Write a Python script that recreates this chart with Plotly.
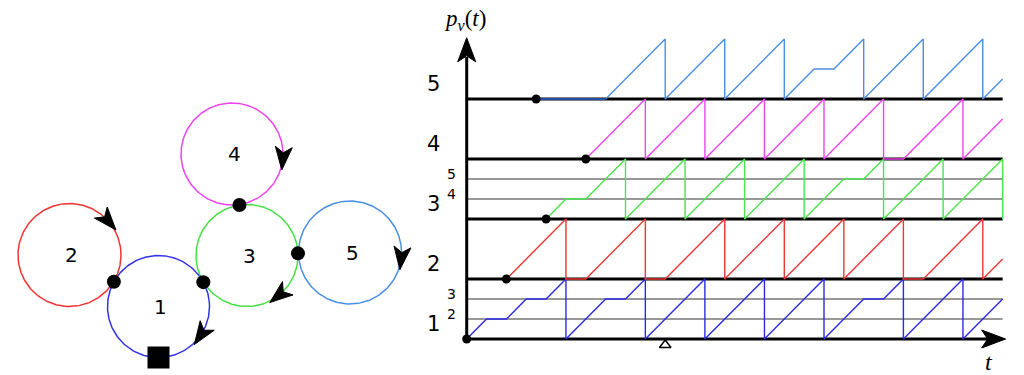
import numpy as np
import plotly.graph_objects as go

# ---------------- data: left diagram (graph of 5 cycles) ----------------
node_names = ["1", "2", "3", "4", "5"]
node_cx = [158.5, 69.5, 247.0, 232.0, 350.0]
node_cy = [306.5, 255.0, 255.5, 154.0, 252.5]
node_r = [51.0, 51.5, 51.0, 51.0, 51.5]
node_colors = ["#3333e6", "#f03333", "#44e044", "#ee44ee", "#4a8fe3"]
arrow_angle_deg = [34.0, -41.0, 51.5, 5.0, 6.5]      # arrowhead place on each cycle
junction_node = [0, 0, 2, 2]                          # junctions (on which cycle)
junction_angle_deg = [-151.0, -28.5, -98.5, -2.4]
square_node = 0
square_angle_deg = 90.0

# ---------------- data: right chart p_v(t) ----------------
lvl1_t = [0, 1, 2, 3, 4, 5, 5, 7, 8, 9, 9, 12, 12, 15, 15, 18, 18, 20, 21, 22, 22, 25, 25, 27]
lvl1_v = [0, 1/3, 1/3, 2/3, 2/3, 1, 0, 2/3, 2/3, 1, 0, 1, 0, 1, 0, 1, 0, 2/3, 2/3, 1, 0, 1, 0, 2/3]
lvl2_t = [2, 5, 5, 6, 9, 9, 10, 13, 13, 16, 16, 19, 19, 22, 22, 23, 26, 26, 27]
lvl2_v = [1, 2, 1, 1, 2, 1, 1, 2, 1, 2, 1, 2, 1, 2, 1, 1, 2, 1, 4/3]
lvl3_t = [4, 5, 6, 8, 8, 11, 11, 14, 14, 17, 17, 19, 20, 21, 21, 24, 24, 27, 27]
lvl3_v = [2, 7/3, 7/3, 3, 2, 3, 2, 3, 2, 3, 2, 8/3, 8/3, 3, 2, 3, 2, 3, 2]
lvl4_t = [6, 9, 9, 12, 12, 15, 15, 18, 18, 21, 21, 22, 25, 25, 27]
lvl4_v = [3, 4, 3, 4, 3, 4, 3, 4, 3, 4, 3, 3, 4, 3, 11/3]
lvl5_wait_t = [3.5, 7]
lvl5_wait_v = [4, 4]
lvl5_t = [7, 10, 10, 13, 13, 16, 16, 17.5, 18.5, 20, 20, 23, 23, 26, 26, 27]
lvl5_v = [4, 5, 4, 5, 4, 5, 4, 4.5, 4.5, 5, 4, 5, 4, 5, 4, 13/3]
start_t = [0, 2, 4, 6, 3.5]
start_v = [0, 1, 2, 3, 4]
thick_levels = [1, 2, 3, 4]
thin_levels = [1/3, 2/3, 7/3, 8/3]
t_end = 27
band_labels = ["1", "2", "3", "4", "5"]
sub_labels = ["2", "3", "4", "5"]
sub_label_v = [0.41, 0.75, 2.41, 2.75]
marker_t = [10]

# ---------------- geometry of the chart area (pixels) ----------------
W, H = 1024, 375
X0, Y0 = 466.7, 339.0      # pixel of (t=0, v=0)
UT, UV = 19.85, 60.0       # pixels per unit
t_range = [-X0 / UT, (W - X0) / UT]
v_range = [(Y0 - H) / UV, Y0 / UV]


def to_px(t, v):
    return X0 + UT * t, Y0 - UV * v


def stealth(px, py, dx, dy, L, Wd):
    n = np.hypot(dx, dy)
    dx, dy = dx / n, dy / n
    nx, ny = -dy, dx
    xs = [px + dx * L / 2, px - dx * L / 2 + nx * Wd / 2, px - dx * L / 4,
          px - dx * L / 2 - nx * Wd / 2, px + dx * L / 2]
    ys = [py + dy * L / 2, py - dy * L / 2 + ny * Wd / 2, py - dy * L / 4,
          py - dy * L / 2 - ny * Wd / 2, py + dy * L / 2]
    return xs, ys


fig = go.Figure()

# ---- left diagram ----
th = np.linspace(0, 2 * np.pi, 241)
for i in range(5):
    fig.add_trace(go.Scatter(x=node_cx[i] + node_r[i] * np.cos(th),
                             y=node_cy[i] + node_r[i] * np.sin(th),
                             mode="lines", line=dict(color=node_colors[i], width=1.5),
                             xaxis="x", yaxis="y", hoverinfo="skip"))
for i in range(5):
    a = np.radians(arrow_angle_deg[i])
    px = node_cx[i] + node_r[i] * np.cos(a)
    py = node_cy[i] + node_r[i] * np.sin(a)
    xs, ys = stealth(px, py, -np.sin(a), np.cos(a), 23, 17)
    fig.add_trace(go.Scatter(x=xs, y=ys, mode="lines", fill="toself", fillcolor="black",
                             line=dict(color="black", width=1), xaxis="x", yaxis="y",
                             hoverinfo="skip"))
jx = [node_cx[k] + node_r[k] * np.cos(np.radians(a)) for k, a in zip(junction_node, junction_angle_deg)]
jy = [node_cy[k] + node_r[k] * np.sin(np.radians(a)) for k, a in zip(junction_node, junction_angle_deg)]
fig.add_trace(go.Scatter(x=jx, y=jy, mode="markers", marker=dict(color="black", size=14),
                         xaxis="x", yaxis="y", hoverinfo="skip"))
sa = np.radians(square_angle_deg)
fig.add_trace(go.Scatter(x=[node_cx[square_node] + node_r[square_node] * np.cos(sa)],
                         y=[node_cy[square_node] + node_r[square_node] * np.sin(sa)],
                         mode="markers", marker=dict(color="black", size=22, symbol="square"),
                         xaxis="x", yaxis="y", hoverinfo="skip"))
for i in range(5):
    fig.add_annotation(x=node_cx[i] + 2, y=node_cy[i], text=node_names[i], showarrow=False,
                       xref="x", yref="y", font=dict(family="DejaVu Sans", size=20, color="black"))

# ---- right chart ----
for lv in thin_levels:
    fig.add_trace(go.Scatter(x=[0, t_end], y=[lv, lv], mode="lines",
                             line=dict(color="#333333", width=1), xaxis="x2", yaxis="y2",
                             hoverinfo="skip"))
for lv in thick_levels:
    fig.add_trace(go.Scatter(x=[0, t_end], y=[lv, lv], mode="lines",
                             line=dict(color="black", width=3), xaxis="x2", yaxis="y2",
                             hoverinfo="skip"))
# axes
fig.add_trace(go.Scatter(x=[0, 26.3], y=[0, 0], mode="lines", line=dict(color="black", width=3),
                         xaxis="x2", yaxis="y2", hoverinfo="skip"))
fig.add_trace(go.Scatter(x=[0, 0], y=[0, 4.7], mode="lines", line=dict(color="black", width=3),
                         xaxis="x2", yaxis="y2", hoverinfo="skip"))
tipx, tipy = to_px(27.15, 0)
xs, ys = stealth(tipx - 12, tipy, 1, 0, 24, 18)
fig.add_trace(go.Scatter(x=xs, y=ys, mode="lines", fill="toself", fillcolor="black",
                         line=dict(color="black", width=1), xaxis="x", yaxis="y", hoverinfo="skip"))
tipx, tipy = to_px(0, 5.02)
xs, ys = stealth(tipx, tipy + 12, 0, -1, 24, 18)
fig.add_trace(go.Scatter(x=xs, y=ys, mode="lines", fill="toself", fillcolor="black",
                         line=dict(color="black", width=1), xaxis="x", yaxis="y", hoverinfo="skip"))

series = [(lvl1_t, lvl1_v, "#2b2be6"), (lvl2_t, lvl2_v, "#f03535"), (lvl3_t, lvl3_v, "#4ce44c"),
          (lvl4_t, lvl4_v, "#ee44ee"), (lvl5_t, lvl5_v, "#4a8fe3")]
for t, v, c in series:
    fig.add_trace(go.Scatter(x=t, y=v, mode="lines", line=dict(color=c, width=1.4),
                             xaxis="x2", yaxis="y2", hoverinfo="skip"))
fig.add_trace(go.Scatter(x=lvl5_wait_t, y=lvl5_wait_v, mode="lines",
                         line=dict(color="#1f4fa8", width=2.2), xaxis="x2", yaxis="y2",
                         hoverinfo="skip"))
fig.add_trace(go.Scatter(x=start_t, y=start_v, mode="markers", marker=dict(color="black", size=9),
                         xaxis="x2", yaxis="y2", hoverinfo="skip"))
fig.add_trace(go.Scatter(x=marker_t, y=[-0.1], mode="markers",
                         marker=dict(color="black", size=10, symbol="triangle-up-open",
                                     line=dict(width=1.5, color="black")),
                         xaxis="x2", yaxis="y2", hoverinfo="skip"))

for k, lab in enumerate(band_labels):
    fig.add_annotation(x=-1.68, y=k + 0.25, text=lab, showarrow=False, xref="x2", yref="y2",
                       font=dict(family="DejaVu Sans", size=21, color="black"))
for lab, vv in zip(sub_labels, sub_label_v):
    fig.add_annotation(x=-0.76, y=vv, text=lab, showarrow=False, xref="x2", yref="y2",
                       font=dict(family="DejaVu Sans", size=14, color="black"))
fig.add_annotation(x=-0.1, y=5.32, text="<i>p</i><sub><i>v</i></sub>(<i>t</i>)", showarrow=False,
                   xref="x2", yref="y2",
                   font=dict(family="Liberation Serif", size=23, color="black"))
fig.add_annotation(x=26.3, y=-0.38, text="<i>t</i>", showarrow=False, xref="x2", yref="y2",
                   font=dict(family="Liberation Serif", size=24, color="black"))

fig.update_layout(
    width=W, height=H, margin=dict(l=0, r=0, t=0, b=0),
    paper_bgcolor="white", plot_bgcolor="rgba(0,0,0,0)", showlegend=False,
    xaxis=dict(domain=[0, 1], range=[0, W], visible=False, fixedrange=True),
    yaxis=dict(domain=[0, 1], range=[H, 0], visible=False, fixedrange=True),
    xaxis2=dict(domain=[0, 1], range=t_range, visible=False, anchor="y2", fixedrange=True),
    yaxis2=dict(domain=[0, 1], range=v_range, visible=False, anchor="x2", fixedrange=True),
)
fig.write_html("out.html", config={"displayModeBar": False},
               post_script="document.body.style.margin='0';document.body.style.overflow='hidden';")
